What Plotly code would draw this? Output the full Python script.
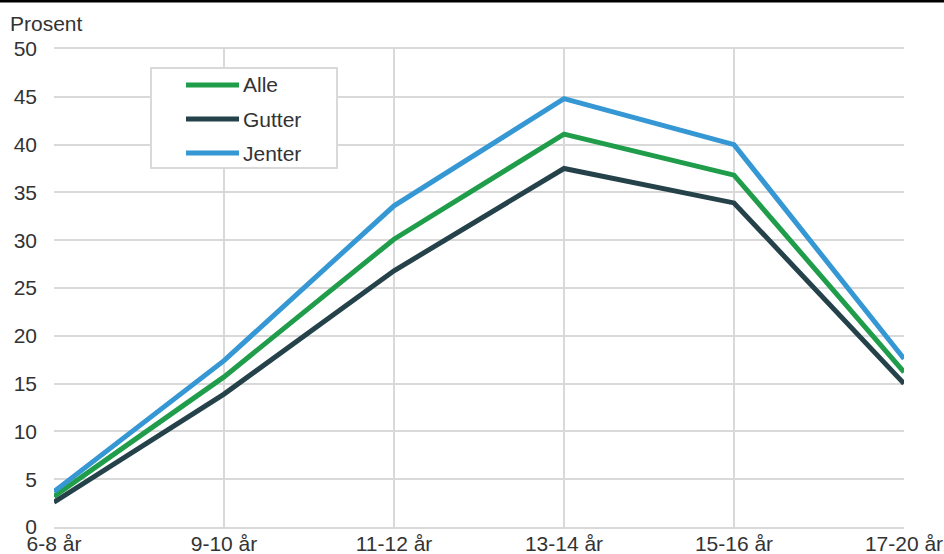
import plotly.graph_objects as go

categories = ["6-8 år", "9-10 år", "11-12 år", "13-14 år", "15-16 år", "17-20 år"]
alle = [3.2, 15.7, 30.1, 41.1, 36.8, 16.2]
gutter = [2.6, 13.9, 26.8, 37.5, 33.9, 15.0]
jenter = [3.7, 17.4, 33.6, 44.8, 40.0, 17.6]

series = [("Alle", alle, "#1f9d4a"), ("Gutter", gutter, "#25424a"), ("Jenter", jenter, "#3597d3")]

L, R, T, B = 54, 40, 49, 27
W, H = 944, 554
PW, PH = W - L - R, H - T - B


def px(x):
    return (x - L) / PW


def py(y):
    return (H - B - y) / PH


grid = "#d9d9d9"
font = "Liberation Sans, Arial, sans-serif"
txt = "#333333"
fs = 21

fig = go.Figure()
for name, vals, col in series:
    fig.add_trace(go.Scatter(x=categories, y=vals, name=name, mode="lines",
                             line=dict(color=col, width=5), showlegend=False))

fig.update_layout(
    width=W, height=H,
    margin=dict(l=L, r=R, t=T, b=B, autoexpand=False),
    paper_bgcolor="white", plot_bgcolor="white",
    font=dict(family=font, size=fs, color=txt),
    showlegend=False,
    xaxis=dict(type="category", range=[0, 5], showgrid=True, gridcolor=grid, gridwidth=2,
               ticks="", tickfont=dict(size=fs), showline=True, linecolor=grid, linewidth=2,
               mirror=True, fixedrange=True, automargin=False, ticklabelstandoff=-3),
    yaxis=dict(range=[0, 50], dtick=5, showgrid=True, gridcolor=grid, gridwidth=2,
               zeroline=False, ticks="", tickfont=dict(size=fs), showline=False,
               fixedrange=True, automargin=False, ticklabelstandoff=16),
)

# "Prosent" label
fig.add_annotation(text="Prosent", xref="paper", yref="paper", x=px(8), y=py(24),
                   xanchor="left", yanchor="middle", showarrow=False,
                   font=dict(family=font, size=fs, color=txt))
# top black rule
fig.add_shape(type="line", xref="paper", yref="paper", x0=px(0), x1=px(W),
              y0=py(1), y1=py(1), line=dict(color="black", width=3))

# legend (drawn manually)
fig.add_shape(type="rect", xref="paper", yref="paper", x0=px(151), x1=px(337),
              y0=py(168), y1=py(68), line=dict(color=grid, width=2), fillcolor="white",
              layer="above")
for i, (name, vals, col) in enumerate(series):
    yy = 85 + 34 * i
    fig.add_shape(type="line", xref="paper", yref="paper", x0=px(186), x1=px(239),
                  y0=py(yy), y1=py(yy), line=dict(color=col, width=5), layer="above")
    fig.add_annotation(text=name, xref="paper", yref="paper", x=px(241), y=py(yy),
                       xanchor="left", yanchor="middle", showarrow=False,
                       font=dict(family=font, size=fs, color=txt))

fig.write_html(
    "out.html",
    config={"displayModeBar": False, "staticPlot": True},
    post_script=(
        "document.documentElement.style.margin='0';"
        "document.documentElement.style.overflow='hidden';"
        "document.body.style.margin='0';"
        "document.body.style.padding='0';"
        "document.body.style.overflow='hidden';"
    ),
)
